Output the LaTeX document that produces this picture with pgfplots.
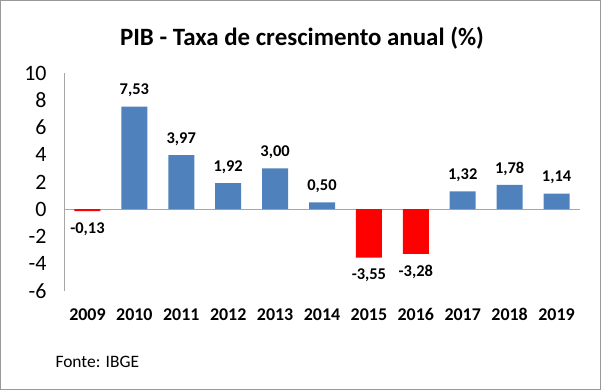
\documentclass[border=0pt]{standalone}
\usepackage{pgfplots}
\pgfplotsset{compat=1.18}
\usepackage{fontspec}
\setmainfont{Carlito}
\definecolor{barblue}{HTML}{4F81BD}
\definecolor{barred}{HTML}{FF0000}
\begin{document}
\begin{tikzpicture}
\useasboundingbox (0,0) rectangle (601bp,390bp);
\draw[gray!80, line width=1bp] (0.5bp,0.5bp) rectangle (600.5bp,389.5bp);
\node[font=\fontsize{25}{25}\selectfont\bfseries] at (302bp,352bp) {PIB - Taxa de crescimento anual (\%)};
\node[font=\fontsize{17.5}{17.5}\selectfont, anchor=west] at (52bp,28bp) {Fonte: IBGE};
\begin{axis}[
  at={(64bp,99bp)}, anchor=south west,
  scale only axis, width=516bp, height=218bp,
  xmin=-0.5, xmax=10.5, ymin=-6, ymax=10,
  ytick={-6,-4,...,10},
  xtick={0,...,10},
  xticklabels={2009,2010,2011,2012,2013,2014,2015,2016,2017,2018,2019},
  axis y line*=left,
  axis x line*=bottom,
  x axis line style={draw=none},
  y axis line style={draw=gray!70, -},
  major tick length=0pt,
  /pgf/number format/assume math mode=true,
  yticklabel style={font=\fontsize{22}{22}\selectfont, xshift=-14bp},
  xticklabel style={font=\fontsize{18}{18}\selectfont\bfseries, yshift=-14bp},
  ybar, bar width=26bp,
  point meta=explicit symbolic,
  nodes near coords={\pgfplotspointmeta},
  clip=false,
]
\draw[gray!70] (axis cs:-0.5,0) -- (axis cs:10.5,0);
\addplot[fill=barblue, draw=none, bar shift=0pt,
  every node near coord/.append style={font=\fontsize{16.5}{16.5}\selectfont\bfseries, anchor=center, yshift=16bp}]
  table[meta=label] {
x y label
1 7.53 7,53
2 3.97 3,97
3 1.92 1,92
4 3.00 3,00
5 0.50 0,50
8 1.32 1,32
9 1.78 1,78
10 1.14 1,14
};
\addplot[fill=barred, draw=none, bar shift=0pt,
  every node near coord/.append style={font=\fontsize{16.5}{16.5}\selectfont\bfseries, anchor=center, yshift=-18bp}]
  table[meta=label] {
x y label
0 -0.13 -0{,}13
6 -3.55 -3{,}55
7 -3.28 -3{,}28
};
\end{axis}
\end{tikzpicture}
\end{document}
